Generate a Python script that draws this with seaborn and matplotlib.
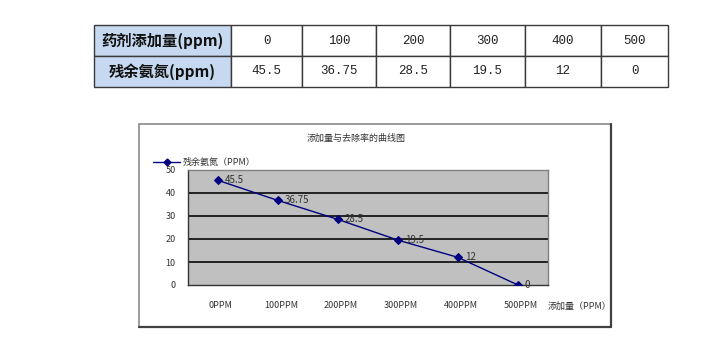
import matplotlib
matplotlib.use("Agg")
import matplotlib.pyplot as plt
import seaborn as sns
import pandas as pd
from matplotlib.patches import Rectangle
from matplotlib.lines import Line2D

# ---- data ----
doses = [0, 100, 200, 300, 400, 500]
residual = [45.5, 36.75, 28.5, 19.5, 12, 0]
x_labels = ["0PPM", "100PPM", "200PPM", "300PPM", "400PPM", "500PPM"]
row_headers = ["药剂添加量(ppm)", "残余氨氮(ppm)"]
chart_title = "添加量与去除率的曲线图"
series_name = "残余氨氮（PPM）"
x_title = "添加量（PPM）"
y_ticks = [0, 10, 20, 30, 40, 50]

sns.set_style("white")
plt.rcParams['font.family'] = ['Noto Sans CJK SC', 'DejaVu Sans']

W, H = 720, 347
fig = plt.figure(figsize=(7.2, 3.47), dpi=100)

def fx(px):
    return px / W

def fy(py):
    return 1 - py / H

# ---- table ----
tl, tr, tt, tb = 94, 668, 25, 87
ax_t = fig.add_axes([fx(tl), fy(tb), fx(tr - tl), (tb - tt) / H])
ax_t.axis("off")
col_w = [137, 71, 74, 74, 75, 76, 67]
cells = [[row_headers[0]] + [f"{d:g}" for d in doses],
         [row_headers[1]] + [f"{v:g}" for v in residual]]
tbl = ax_t.table(cellText=cells, colWidths=[c / sum(col_w) for c in col_w],
                 bbox=[0, 0, 1, 1], cellLoc="center")
tbl.auto_set_font_size(False)
for (r, c), cell in tbl.get_celld().items():
    cell.set_edgecolor("#3a3a3a")
    cell.set_linewidth(1.0)
    txt = cell.get_text()
    if c == 0:
        cell.set_facecolor("#c6d9f0")
        txt.set_fontsize(11)
        txt.set_fontweight("bold")
        txt.set_color("#111111")
    else:
        cell.set_facecolor("white")
        txt.set_fontsize(9)
        txt.set_color("#222222")
        txt.set_family(["Liberation Mono", "DejaVu Sans"])

# ---- chart frame ----
bl, br, bt, bb = 139, 611, 124, 327
fig.patches.append(Rectangle((fx(bl), fy(bb)), fx(br - bl), (bb - bt) / H,
                             transform=fig.transFigure, facecolor="white",
                             edgecolor="#8a8a8a", linewidth=1.2, zorder=-10))
fig.lines.append(Line2D([fx(br), fx(br)], [fy(bb), fy(bt)], transform=fig.transFigure,
                        color="#404040", linewidth=1.6, zorder=-5))
fig.lines.append(Line2D([fx(bl), fx(br)], [fy(bb), fy(bb)], transform=fig.transFigure,
                        color="#404040", linewidth=1.6, zorder=-5))

# ---- plot area ----
pl, pr, pt, pb = 188, 548, 170, 285
ax = fig.add_axes([fx(pl), fy(pb), fx(pr - pl), (pb - pt) / H])
ax.set_zorder(5)
ax.set_facecolor("#c0c0c0")
df = pd.DataFrame({"dose": x_labels, "residual": residual})
sns.lineplot(data=df, x="dose", y="residual", ax=ax, color="#000080",
             marker="D", markersize=4, linewidth=1.0, markeredgecolor="#000080",
             sort=False, legend=False, zorder=3)
ax.set_xlim(-0.5, len(x_labels) - 0.5)
ax.set_ylim(0, 50)
ax.set_yticks(y_ticks)
ax.set_yticklabels([str(v) for v in y_ticks], fontsize=6.5, color="#333333")
for v in y_ticks[1:-1]:
    ax.axhline(v, color="#222222", linewidth=1.4, zorder=1)
ax.set_xticks([i + 0.5 for i in range(len(x_labels) - 1)])
ax.set_xticklabels([])
ax.tick_params(axis="x", direction="inout", length=4, color="#333333", width=0.8)
ax.tick_params(axis="y", length=0, pad=9)
for i, lab in enumerate(x_labels):
    ax.annotate(lab, xy=(i, 0), xycoords="data", xytext=(2, -15),
                textcoords="offset points", ha="center", va="center",
                fontsize=6.5, color="#333333", annotation_clip=False)
ax.annotate(x_title, xy=(len(x_labels) - 1, 0), xycoords="data", xytext=(21, -15),
            textcoords="offset points", ha="left", va="center",
            fontsize=6.5, color="#333333", annotation_clip=False)
for i, v in enumerate(residual):
    ax.annotate(f"{v:g}", xy=(i, v), xytext=(5, 0), textcoords="offset points",
                ha="left", va="center", fontsize=7, color="#333333",
                annotation_clip=False)
ax.set_xlabel("")
ax.set_ylabel("")
for s in ["top", "right"]:
    ax.spines[s].set_color("#808080")
    ax.spines[s].set_linewidth(1.0)
for s in ["left", "bottom"]:
    ax.spines[s].set_color("#333333")
    ax.spines[s].set_linewidth(1.0)

# title and legend
fig.text(fx(356), fy(138), chart_title, ha="center", va="center",
         fontsize=6.5, color="#333333")
leg_y = fy(162)
fig.lines.append(Line2D([fx(153), fx(166.5), fx(180)], [leg_y, leg_y, leg_y],
                        transform=fig.transFigure, color="#000080", linewidth=1.0,
                        marker="D", markersize=3.5, markevery=[1],
                        markerfacecolor="#000080"))
fig.text(fx(183), leg_y, series_name, ha="left", va="center",
         fontsize=6.5, color="#333333")

fig.savefig("out.png", dpi=100)
